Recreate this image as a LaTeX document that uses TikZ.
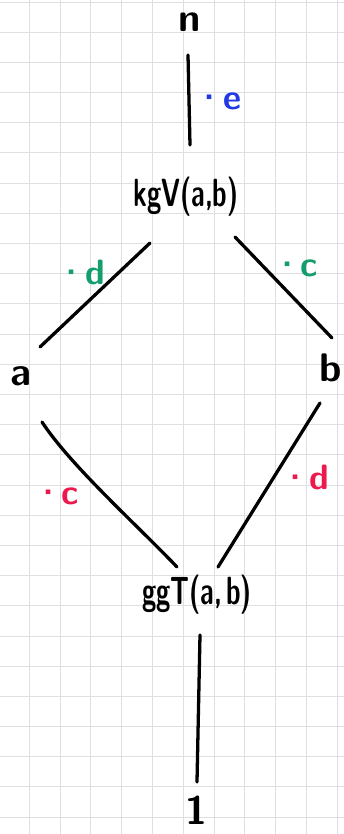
\documentclass[tikz,border=0pt]{standalone}
\usepackage{graphicx}
\usepackage{xcolor}
\usepackage{tikz}
\usetikzlibrary{calc}
\definecolor{gridgray}{rgb}{0.87,0.87,0.89}
\definecolor{cfblue}{rgb}{0.13,0.22,0.90}
\definecolor{cfgreen}{rgb}{0.08,0.62,0.42}
\definecolor{cfred}{rgb}{0.93,0.10,0.30}
\newcommand{\tallsans}[1]{\scalebox{0.92}[1.4]{#1}}

\begin{document}
\begin{tikzpicture}[x=0.03cm, y=-0.03cm,
    font=\sffamily\bfseries\fontsize{24}{28}\selectfont,
    gridline/.style={gridgray, line width=0.5pt},
    stroke/.style={line width=2.8pt, line cap=round},
    single/.style={font=\sffamily\bfseries\fontsize{34}{38}\selectfont},
    lbl/.style={font=\sffamily\bfseries\fontsize{30}{34}\selectfont}]
  \useasboundingbox (0,0) rectangle (344,834);
  \fill[white] (0,0) rectangle (344,834);
  % squared paper
  \foreach \x in {0,...,10} \draw[gridline] (29+30.8*\x,0) -- (29+30.8*\x,834);
  \foreach \y in {-1,...,26} \draw[gridline] (0,32+30.19*\y) -- (344,32+30.19*\y);
  % lattice nodes
  \node[single] (top) at (190,22) {n};
  \node (lcm) at (186,197) {\tallsans{kgV(a,b)}};
  \node[single] (a) at (21,376) {a};
  \node[single] (b) at (331,368) {b};
  \node (gcd) at (197,595) {\tallsans{ggT(a,\,b)}};
  \node[single] (one) at (196,810) {1};
  % connectors
  \draw[stroke] ($(top)+(-2,33)$) -- ($(lcm)+(4,-52)$);
  \draw[stroke] ($(lcm)+(-36,46)$) -- ($(a)+(19,-29)$);
  \draw[stroke] ($(lcm)+(49,40)$) -- ($(b)+(1,-30)$);
  \draw[stroke] ($(a)+(21,46)$) .. controls ($(a)+(50,90)$) and ($(gcd)+(-60,-70)$) .. ($(gcd)+(-20,-28)$);
  \draw[stroke] ($(b)+(-11,35)$) -- ($(gcd)+(21,-28)$);
  \draw[stroke] ($(gcd)+(3,40)$) -- ($(one)+(1,-28)$);
  % factors
  \node[lbl, cfblue] (fe) at (218,101) {\textperiodcentered\kern-0.05em e};
  \node[lbl, cfgreen] (fd1) at (81,272) {\textperiodcentered\kern-0.05em d};
  \node[lbl, cfgreen] (fc1) at (295,268) {\textperiodcentered\kern-0.05em c};
  \node[lbl, cfred] (fc2) at (56,496) {\textperiodcentered\kern-0.05em c};
  \node[lbl, cfred] (fd2) at (305,477) {\textperiodcentered\kern-0.05em d};
\end{tikzpicture}
\end{document}
